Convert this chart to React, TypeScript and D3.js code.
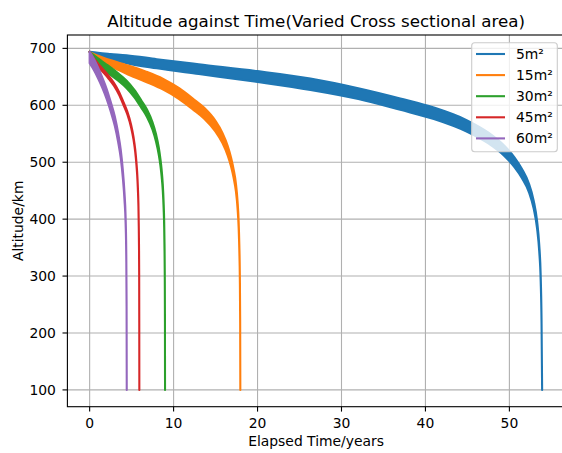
import React from 'react';
import * as d3 from 'd3';

// series labels and matplotlib tab10 colours
const seriesNames = ['5m²', '15m²', '30m²', '45m²', '60m²'];
const seriesColors = ['#1f77b4', '#ff7f0e', '#2ca02c', '#d62728', '#9467bd'];

// elapsed time (years) and the upper / lower envelope of the altitude band (km)
const time5 = [0, 1, 2.5, 4.4, 8, 13, 20, 26.3, 32, 37, 41, 44.9, 47.5, 49.4, 50.6, 51.5, 52.3, 52.9, 53.3, 53.55, 53.72, 53.83, 53.9];
const upper5 = [694, 692.25, 690.25, 688, 681, 672, 660, 647, 630, 612, 596, 574, 552, 529, 508.5, 488, 463.5, 432, 396.5, 356, 305, 223, 100];
const lower5 = [694, 687.75, 681.75, 674, 665, 655, 641, 627, 611, 592, 576, 554, 533, 511, 491.5, 472, 448.5, 418, 383.5, 344, 295, 217, 100];

const time15 = [0, 0.33, 0.83, 1.47, 2.66, 4.33, 6.66, 8.76, 10.66, 12.32, 13.65, 14.95, 15.82, 16.45, 16.85, 17.15, 17.42, 17.62, 17.75, 17.83, 17.89, 17.93, 17.95];
const upper15 = [694, 691, 688, 684.5, 678.5, 671, 659.5, 646.5, 630, 611.5, 595.5, 573.5, 551.5, 528.5, 508, 487.5, 463, 431.5, 396, 355.5, 304.5, 222.5, 100];
const lower15 = [694, 689, 684, 677.5, 667.5, 656, 641.5, 627.5, 611, 592.5, 576.5, 554.5, 533.5, 511.5, 492, 472.5, 449, 418.5, 384, 344.5, 295.5, 217.5, 100];

const time30 = [0, 0.17, 0.42, 0.73, 1.33, 2.17, 3.33, 4.38, 5.33, 6.16, 6.83, 7.48, 7.91, 8.23, 8.43, 8.58, 8.71, 8.81, 8.88, 8.92, 8.95, 8.97, 8.98];
const upper30 = [694, 691.5, 689, 685.5, 679, 670, 657, 643.5, 627, 608.5, 592.5, 570.5, 549, 526.5, 506, 486, 461.5, 430.5, 395, 355, 304, 222, 100];
const lower30 = [694, 688.5, 683, 676.5, 667, 657, 644, 630.5, 614, 595.5, 579.5, 557.5, 536, 513.5, 494, 474, 450.5, 419.5, 385, 345, 296, 218, 100];

const time45 = [0, 0.11, 0.28, 0.49, 0.88, 1.43, 2.2, 2.89, 3.52, 4.06, 4.5, 4.93, 5.22, 5.43, 5.56, 5.66, 5.74, 5.81, 5.85, 5.88, 5.9, 5.91, 5.92];
const upper45 = [694, 691, 687.5, 683, 675.5, 666, 653, 639.5, 623, 604.5, 588.5, 566.5, 545, 522.5, 502.5, 482.5, 458.5, 427.5, 392.5, 352.5, 302, 221, 100];
const lower45 = [694, 689, 684.5, 679, 670.5, 661, 648, 634.5, 618, 599.5, 583.5, 561.5, 540, 517.5, 497.5, 477.5, 453.5, 422.5, 387.5, 347.5, 298, 219, 100];

const time60 = [0, 0.5, 1.0, 1.5, 2.0, 2.5, 3.0, 3.4, 3.7, 3.95, 4.15, 4.28, 4.36, 4.4, 4.42];
const upper60 = [694, 682, 666.5, 649, 630, 606.5, 580.5, 551, 522.5, 487, 446.5, 406, 345, 253, 100];
const lower60 = [674, 662, 647.5, 631, 612, 589.5, 563.5, 535, 507.5, 473, 433.5, 394, 335, 247, 100];

const xTicks = [0, 10, 20, 30, 40, 50];
const yTicks = [100, 200, 300, 400, 500, 600, 700];

const font = '"DejaVu Sans", sans-serif';

export default function App() {
  const W = 562;
  const H = 453;
  const left = 67.4, right = 564.8, top = 35, bottom = 406.7;

  const x = d3.scaleLinear().domain([-2.65, 56.6]).range([left, right]);
  const y = d3.scaleLinear().domain([70.5, 723.5]).range([bottom, top]);

  const series = [
    { t: time5, hi: upper5, lo: lower5 },
    { t: time15, hi: upper15, lo: lower15 },
    { t: time30, hi: upper30, lo: lower30 },
    { t: time45, hi: upper45, lo: lower45 },
    { t: time60, hi: upper60, lo: lower60 },
  ];

  const band = (s) => {
    const idx = d3.range(s.t.length);
    return d3.area()
      .x(i => x(s.t[i]))
      .y0(i => y(s.lo[i]))
      .y1(i => y(s.hi[i]))
      .curve(d3.curveMonotoneX)(idx);
  };

  const midX = (left + right) / 2;
  const midY = (top + bottom) / 2;

  return (
    <svg width={W} height={H} style={{ position: 'absolute', left: 0, top: 0, background: '#fff' }}
      fontFamily={font}>
      <defs>
        <clipPath id="plot">
          <rect x={left} y={top} width={right - left} height={bottom - top} />
        </clipPath>
      </defs>
      <rect x={0} y={0} width={W} height={H} fill="#fff" />

      {/* grid */}
      <g stroke="#b0b0b0" strokeWidth={1.1}>
        {xTicks.map(v => <line key={'gx' + v} x1={x(v)} x2={x(v)} y1={top} y2={bottom} />)}
        {yTicks.map(v => <line key={'gy' + v} x1={left} x2={right} y1={y(v)} y2={y(v)} />)}
      </g>

      {/* bands */}
      <g clipPath="url(#plot)">
        {series.map((s, i) => (
          <path key={i} d={band(s)} fill={seriesColors[i]} stroke={seriesColors[i]}
            strokeWidth={2.1} strokeLinejoin="round" />
        ))}
      </g>

      {/* spines */}
      <rect x={left} y={top} width={right - left} height={bottom - top} fill="none" stroke="#000" strokeWidth={1.1} />

      {/* x axis */}
      {xTicks.map(v => (
        <g key={'xt' + v}>
          <line x1={x(v)} x2={x(v)} y1={bottom} y2={bottom + 4.9} stroke="#000" strokeWidth={1.1} />
          <text x={x(v)} y={bottom + 21.5} textAnchor="middle" fontSize={13.9} fill="#000">{v}</text>
        </g>
      ))}
      <text x={midX} y={446} textAnchor="middle" fontSize={13.9} fill="#000">Elapsed Time/years</text>

      {/* y axis */}
      {yTicks.map(v => (
        <g key={'yt' + v}>
          <line x1={left - 4.9} x2={left} y1={y(v)} y2={y(v)} stroke="#000" strokeWidth={1.1} />
          <text x={left - 11.5} y={y(v) + 5} textAnchor="end" fontSize={13.9} fill="#000">{v}</text>
        </g>
      ))}
      <text transform={`translate(22.5,${midY}) rotate(-90)`} textAnchor="middle" fontSize={13.9} fill="#000">Altitude/km</text>

      {/* title */}
      <text x={midX} y={26.5} textAnchor="middle" fontSize={16.7} fill="#000">
        Altitude against Time(Varied Cross sectional area)
      </text>

      {/* legend */}
      <g>
        <rect x={471.7} y={42.7} width={85.6} height={109} rx={3} fill="#fff" fillOpacity={0.8}
          stroke="#cccccc" strokeWidth={1.1} />
        {seriesNames.map((name, i) => (
          <g key={name} transform={`translate(0,${54 + i * 21.1})`}>
            <line x1={476} x2={505} y1={0} y2={0} stroke={seriesColors[i]} strokeWidth={2.1} />
            <text x={516} y={5} fontSize={13.9} fill="#000">{name}</text>
          </g>
        ))}
      </g>
    </svg>
  );
}
